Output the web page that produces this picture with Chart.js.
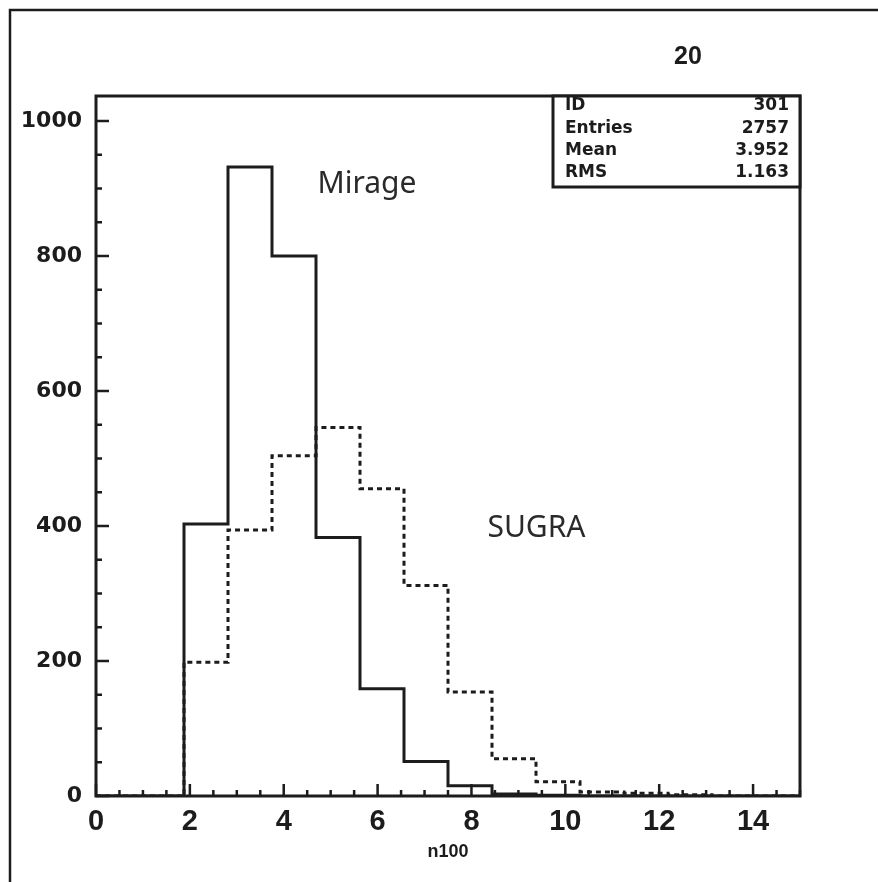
<!DOCTYPE html>
<html><head><meta charset="utf-8">
<script src="https://cdn.jsdelivr.net/npm/chart.js@4/dist/chart.umd.min.js"></script>
<style>html,body{margin:0;padding:0;background:#fff;overflow:hidden}#wrap{width:878px;height:882px;position:relative}</style>
</head><body><div id="wrap"><canvas id="c" width="878" height="882"></canvas></div>
<script>
// ---- data ----
const binLowEdges = [0, 0.9375, 1.875, 2.8125, 3.75, 4.6875, 5.625, 6.5625, 7.5, 8.4375, 9.375, 10.3125, 11.25, 12.1875, 13.125, 14.0625];
const binUpperEdge = 15;
const mirageCounts = [0, 0, 403, 932, 800, 383, 159, 51, 15, 3, 1, 0, 0, 0, 0, 0];
const sugraCounts  = [0, 0, 198, 394, 504, 546, 455, 312, 154, 55, 21, 6, 4, 2, 0, 0];
const seriesNames = ['Mirage', 'SUGRA'];
const xTickLabels = [0, 2, 4, 6, 8, 10, 12, 14];
const yTickLabels = [0, 200, 400, 600, 800, 1000];
const xAxisTitle = 'n100';
const plotTitle = '20';
const statsLabels = ['ID', 'Entries', 'Mean', 'RMS'];
const statsValues = ['301', '2757', '3.952', '1.163'];

function histPoints(counts) {
  const pts = binLowEdges.map((e, i) => ({x: e, y: counts[i]}));
  pts.push({x: binUpperEdge, y: counts[counts.length - 1]});
  return pts;
}

const INK = '#1c1c1c';
const NARROW = '"Liberation Sans", Arial, sans-serif';

const hbookPlugin = {
  id: 'hbook',
  beforeDraw(chart) {
    const ctx = chart.ctx;
    ctx.save();
    ctx.fillStyle = '#fff';
    ctx.fillRect(0, 0, chart.width, chart.height);
    // outer page frame (left + top visible)
    ctx.strokeStyle = INK; ctx.lineWidth = 2.5;
    ctx.beginPath();
    ctx.moveTo(10, chart.height + 5); ctx.lineTo(10, 10); ctx.lineTo(chart.width + 5, 10);
    ctx.stroke();
    // title
    ctx.fillStyle = INK;
    ctx.font = 'bold 25px ' + NARROW;
    ctx.textAlign = 'center'; ctx.textBaseline = 'middle';
    ctx.fillText(plotTitle, 688, 57);
    ctx.restore();
  },
  afterDatasetsDraw(chart) {
    const {ctx, chartArea: a, scales: {x, y}} = chart;
    ctx.save();
    ctx.strokeStyle = INK; ctx.fillStyle = INK;
    // plot frame
    ctx.lineWidth = 3;
    ctx.strokeRect(a.left, a.top, a.right - a.left, a.bottom - a.top);
    // inward ticks
    ctx.lineWidth = 2.5;
    ctx.beginPath();
    for (let v = 0; v <= x.max + 1e-6; v += 0.5) {
      const px = x.getPixelForValue(v);
      const len = Math.abs(v % 2) < 1e-6 ? 12 : 6;
      ctx.moveTo(px, a.bottom); ctx.lineTo(px, a.bottom - len);
    }
    for (let v = 0; v <= y.max + 1e-6; v += 50) {
      const py = y.getPixelForValue(v);
      const len = v % 200 === 0 ? 13 : 6;
      ctx.moveTo(a.left, py); ctx.lineTo(a.left + len, py);
    }
    ctx.stroke();
    // series annotations
    ctx.font = '30px "Noto Sans", sans-serif';
    ctx.fillStyle = '#2a2a2a';
    ctx.textAlign = 'left'; ctx.textBaseline = 'alphabetic';
    ctx.fillText(seriesNames[0], x.getPixelForValue(4.72), y.getPixelForValue(893));
    ctx.fillText(seriesNames[1], x.getPixelForValue(8.34), y.getPixelForValue(384));
    // stats box
    const bx0 = 553, by0 = a.top, bx1 = a.right, by1 = 187;
    ctx.fillStyle = '#fff';
    ctx.fillRect(bx0, by0, bx1 - bx0, by1 - by0);
    ctx.lineWidth = 3; ctx.strokeStyle = INK;
    ctx.strokeRect(bx0, by0, bx1 - bx0, by1 - by0);
    ctx.fillStyle = INK;
    ctx.font = 'bold 17px "DejaVu Sans", sans-serif';
    ctx.textBaseline = 'middle';
    statsLabels.forEach((lab, i) => {
      const ry = 106 + i * 22.3;
      ctx.textAlign = 'left'; ctx.fillText(lab, 565, ry);
      ctx.textAlign = 'right'; ctx.fillText(statsValues[i], 789, ry);
    });
    ctx.restore();
  }
};

new Chart(document.getElementById('c'), {
  type: 'line',
  data: {
    datasets: [
      {label: seriesNames[1], data: histPoints(sugraCounts), stepped: true, borderColor: INK, borderWidth: 3,
       borderDash: [5, 4], pointRadius: 0, fill: false},
      {label: seriesNames[0], data: histPoints(mirageCounts), stepped: true, borderColor: INK, borderWidth: 3,
       pointRadius: 0, fill: false}
    ]
  },
  options: {
    responsive: false, animation: false, devicePixelRatio: 1,
    layout: {padding: {left: 0, top: 96, right: 78, bottom: 0}},
    plugins: {legend: {display: false}, tooltip: {enabled: false}, title: {display: false}},
    scales: {
      x: {
        type: 'linear', min: 0, max: binUpperEdge,
        grid: {display: false, drawTicks: false}, border: {display: false},
        afterBuildTicks: s => { s.ticks = xTickLabels.map(v => ({value: v})); },
        afterFit: s => { s.height = 86; },
        ticks: {padding: 9, color: INK, maxRotation: 0, autoSkip: false, callback: v => String(v),
                font: {family: NARROW, size: 29, weight: 'bold'}},
        title: {display: true, text: xAxisTitle, color: INK, padding: {top: 0, bottom: 19},
                font: {family: NARROW, size: 18, weight: 'bold'}}
      },
      y: {
        type: 'linear', min: 0, max: 1037,
        grid: {display: false, drawTicks: false}, border: {display: false},
        afterBuildTicks: s => { s.ticks = yTickLabels.map(v => ({value: v})); },
        afterFit: s => { s.width = 96; },
        ticks: {padding: 14, color: INK, autoSkip: false, callback: v => String(v),
                font: {family: '"DejaVu Sans", sans-serif', size: 22, weight: 'bold'}}
      }
    }
  },
  plugins: [hbookPlugin]
});
</script></body></html>
